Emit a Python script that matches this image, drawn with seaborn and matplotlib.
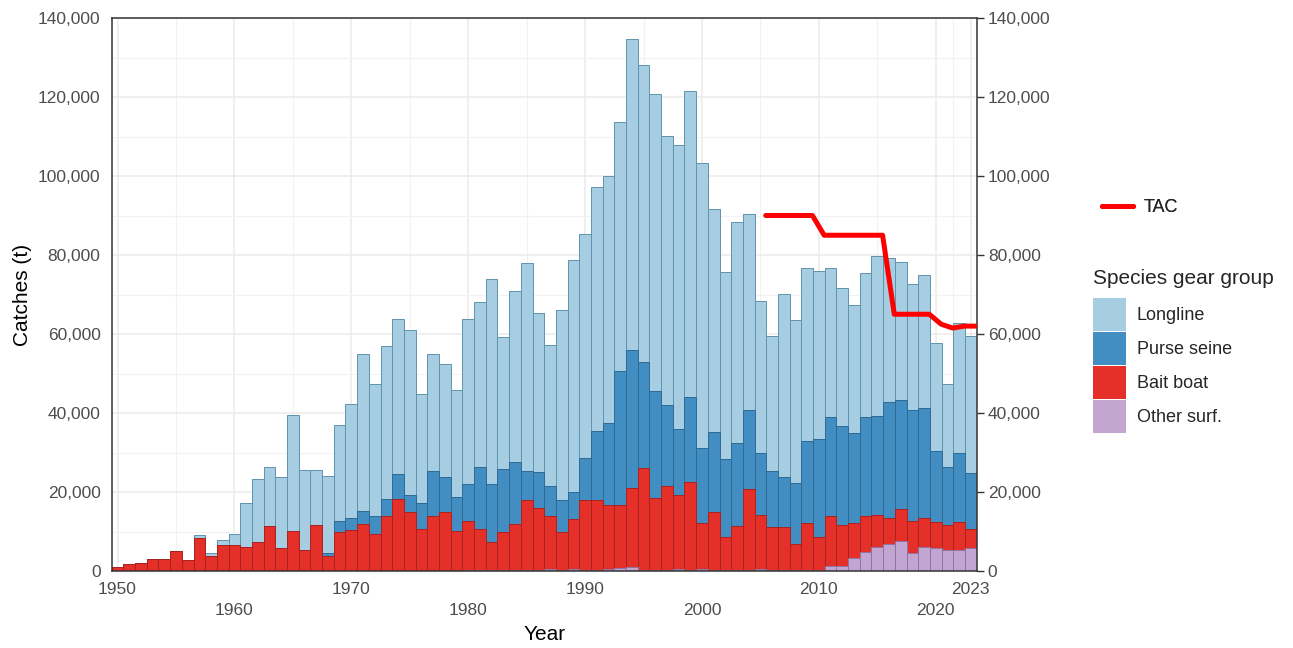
import numpy as np
import pandas as pd
import seaborn as sns
import matplotlib.pyplot as plt
from matplotlib.patches import Patch
from matplotlib.lines import Line2D
from matplotlib.ticker import FuncFormatter, FixedLocator

# Catches (t) by gear group, 1950-2023
years = list(range(1950, 2024))

longline = [
    0, 0, 0, 0, 0, 0, 0, 600, 700, 1400,
    2900, 11100, 16100, 15000, 18000, 29400, 20200, 14000, 19600, 24300,
    28700, 39700, 33500, 38800, 39400, 41700, 27700, 29800, 28700, 27100,
    42000, 41700, 51900, 33500, 43500, 52700, 40200, 35800, 48000, 58900,
    56600, 61700, 62700, 63000, 78900, 75400, 75300, 68200, 71800, 77500,
    72200, 56500, 47300, 55800, 49600, 38400, 34200, 46300, 41100, 43800,
    42700, 37900, 35000, 32400, 36500, 40400, 36400, 34900, 31900, 33700,
    27300, 20900, 32700, 34800,
]
purse_seine = [
    0, 0, 0, 0, 0, 0, 0, 0, 0, 0,
    0, 0, 0, 0, 0, 0, 0, 0, 600, 2900,
    3000, 3300, 4400, 4300, 6300, 4400, 6500, 11300, 8900, 8600,
    9200, 15700, 14600, 16000, 15700, 7400, 9200, 7700, 8100, 6800,
    10500, 17600, 20600, 33900, 34900, 26800, 26900, 20400, 16800, 21400,
    19000, 20200, 19700, 21000, 20000, 15800, 14100, 12600, 15600, 20900,
    24600, 25000, 25100, 22800, 25000, 25100, 29400, 27600, 28100, 27700,
    18200, 14800, 17700, 14100,
]
bait_boat = [
    1000, 1800, 2100, 3100, 3100, 5100, 2800, 8400, 3900, 6500,
    6500, 6100, 7300, 11300, 5700, 10200, 5400, 11600, 3900, 9800,
    10500, 12000, 9400, 13900, 18200, 14900, 10600, 13900, 14900, 10100,
    12400, 10300, 7100, 9600, 11600, 17700, 15700, 13300, 9700, 12500,
    17800, 17600, 16300, 16000, 20000, 25700, 18300, 21200, 18700, 22300,
    11700, 14600, 8400, 11200, 20400, 13600, 11000, 11000, 6600, 11900,
    8400, 12600, 10300, 8900, 9000, 8000, 6700, 8100, 8100, 7300,
    6600, 6300, 7000, 4700,
]
other_surf = [
    0, 0, 0, 0, 0, 0, 0, 0, 0, 0,
    0, 0, 0, 0, 0, 0, 0, 0, 0, 0,
    0, 0, 0, 0, 0, 0, 0, 0, 0, 0,
    300, 300, 200, 200, 200, 300, 200, 500, 300, 600,
    300, 300, 500, 800, 1000, 300, 300, 300, 500, 300,
    500, 300, 200, 300, 300, 600, 200, 200, 200, 200,
    300, 1300, 1300, 3200, 4900, 6200, 6800, 7600, 4600, 6200,
    5700, 5300, 5300, 5900,
]

tac_years = list(range(2005, 2024))
tac = [90000, 90000, 90000, 90000, 90000,
       85000, 85000, 85000, 85000, 85000, 85000,
       65000, 65000, 65000, 65000,
       62500, 61500, 62000, 62000]

gears = ["Longline", "Purse seine", "Bait boat", "Other surf."]
fills = ["#A6CDE2", "#428EC2", "#E5302A", "#C2A6D1"]
edges = ["#5F94AE", "#2D6A94", "#A8231F", "#8F74A3"]

df = pd.DataFrame({"Year": years, "Longline": longline, "Purse seine": purse_seine,
                   "Bait boat": bait_boat, "Other surf.": other_surf})
# cumulative tops, bottom group last so it's drawn on top
df["top_other"] = df["Other surf."]
df["top_bait"] = df["top_other"] + df["Bait boat"]
df["top_purse"] = df["top_bait"] + df["Purse seine"]
df["top_ll"] = df["top_purse"] + df["Longline"]
tops = ["top_ll", "top_purse", "top_bait", "top_other"]

sns.set_style("white")
plt.rcParams["font.family"] = ["Liberation Sans", "DejaVu Sans"]

fig, ax = plt.subplots(figsize=(12.93, 6.48), dpi=100)
fig.subplots_adjust(left=111.7 / 1293, right=976.7 / 1293, top=1 - 18 / 648, bottom=1 - 571 / 648)

for col, fc, ec in zip(tops, fills, edges):
    sns.barplot(data=df, x="Year", y=col, native_scale=True, width=1.0, color=fc,
                saturation=1, edgecolor=ec, linewidth=0.7, errorbar=None, ax=ax)

# TAC drawn slightly right of the bar centres, as in the original
sns.lineplot(x=np.array(tac_years) + 0.45, y=tac, color="#FF0000", linewidth=3.6, ax=ax, zorder=5)

ax.set_xlim(1949.5, 2023.5)
ax.set_ylim(0, 140000)

# grid
ax.set_axisbelow(True)
ax.yaxis.set_major_locator(FixedLocator(np.arange(0, 140001, 20000)))
ax.yaxis.set_minor_locator(FixedLocator(np.arange(10000, 140000, 20000)))
xt = list(range(1950, 2021, 10)) + [2023]
ax.xaxis.set_major_locator(FixedLocator(xt))
ax.xaxis.set_minor_locator(FixedLocator(list(range(1955, 2016, 10)) + [2021.5]))
ax.grid(which="major", color="#EBEBEB", linewidth=1.1)
ax.grid(which="minor", color="#F2F2F2", linewidth=0.8)

ax.yaxis.set_major_formatter(FuncFormatter(lambda v, p: f"{int(v):,}"))
xlabels = [str(y) if i % 2 == 0 else "\n" + str(y) for i, y in enumerate(xt)]
xlabels[-1] = "2023"
ax.set_xticklabels(xlabels)
for lab in ax.get_xticklabels():
    lab.set_linespacing(1.5)

ax.tick_params(axis="both", which="major", length=5, width=1, color="#333333",
               labelsize=12.5, labelcolor="#4D4D4D", direction="out", pad=3)
ax.tick_params(axis="both", which="minor", length=0)
ax.tick_params(axis="y", right=True, labelright=True)

for s in ax.spines.values():
    s.set_color("#333333")
    s.set_linewidth(1.1)
    s.set_visible(True)

ax.set_xlabel("Year", fontsize=15, color="black")
ax.set_ylabel("Catches (t)", fontsize=15, color="black")
ax.xaxis.set_label_coords(0.5, -0.097)
ax.yaxis.set_label_coords(-0.092, 0.5)

# legends
tac_leg = fig.legend(handles=[Line2D([], [], color="#FF0000", linewidth=3.6)], labels=["TAC"],
                     loc="center left", bbox_to_anchor=(1086 / 1293, 1 - 208 / 648),
                     frameon=False, fontsize=13, handlelength=1.7, handletextpad=0.6)
handles = [Patch(facecolor=c, edgecolor="none") for c in fills]
gear_leg = fig.legend(handles=handles, labels=gears, title="Species gear group", loc="upper left",
                      bbox_to_anchor=(1086 / 1293, 1 - 262 / 648), frameon=False, fontsize=13,
                      title_fontsize=15, alignment="left", handlelength=1.8, handleheight=2.44,
                      handletextpad=0.6, labelspacing=0.05, borderaxespad=0)
gear_leg._legend_box.sep = 7  # gap between title and keys
fig.add_artist(tac_leg)

fig.savefig("out.png", dpi=100)
